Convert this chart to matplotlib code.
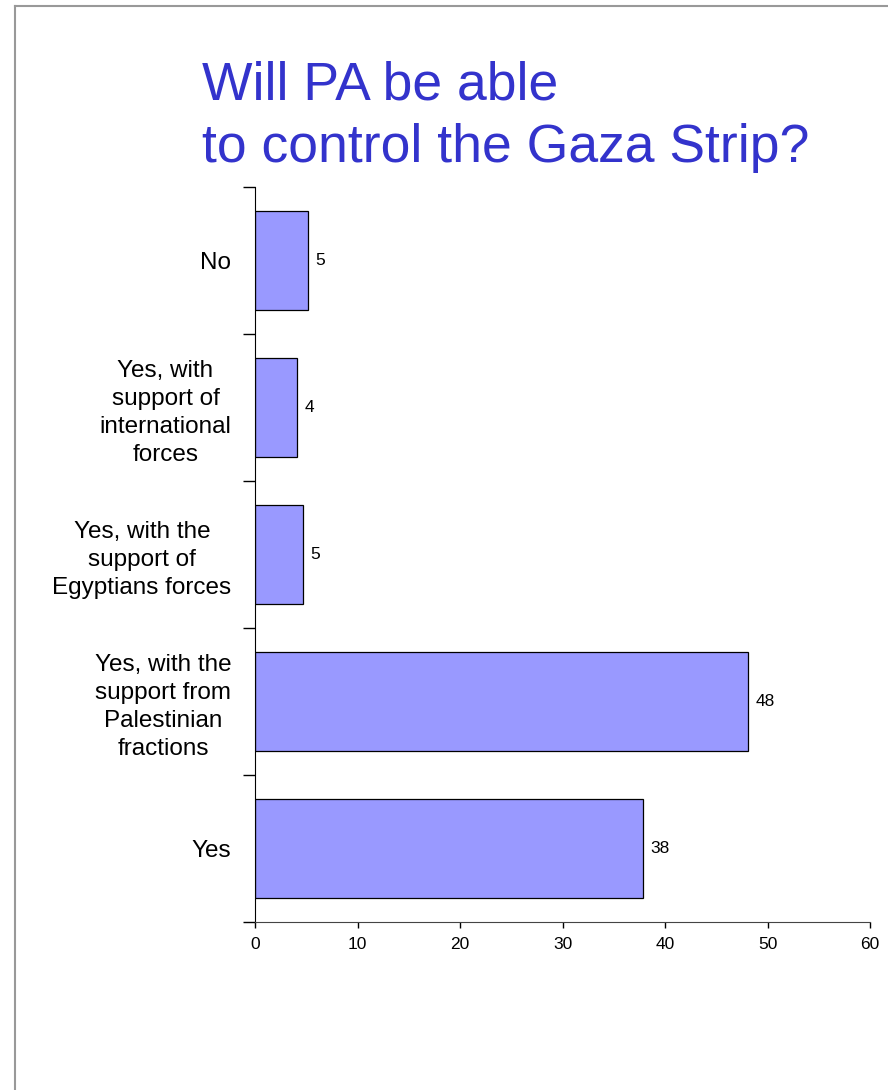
import matplotlib.pyplot as plt
from matplotlib.lines import Line2D

plt.rcParams['font.family'] = ['Liberation Sans', 'DejaVu Sans']

# Datos de la encuesta (de abajo hacia arriba)
categories = ['Yes',
              'Yes, with the\nsupport from\nPalestinian\nfractions',
              'Yes, with the\nsupport of\nEgyptians forces',
              'Yes, with\nsupport of\ninternational\nforces',
              'No']
values = [37.9, 48.1, 4.7, 4.1, 5.2]
value_labels = ['38', '48', '5', '4', '5']
x_ticks = [0, 10, 20, 30, 40, 50, 60]

W, H = 888, 1090
fig = plt.figure(figsize=(W / 100, H / 100), dpi=100)

# Marco de la diapositiva
fig.add_artist(Line2D([15 / W, 15 / W], [0, 1 - 6 / H], color='#999999', lw=1.5))
fig.add_artist(Line2D([15 / W, 1], [1 - 6 / H, 1 - 6 / H], color='#999999', lw=1.5))

# Título en dos líneas
title_color = '#3333CC'
fig.text(202 / W, 1 - 99 / H, 'Will PA be able', color=title_color,
         fontsize=38.5, ha='left', va='baseline')
fig.text(202 / W, 1 - 162 / H, 'to control the Gaza Strip?', color=title_color,
         fontsize=38.5, ha='left', va='baseline')

ax = fig.add_axes([255 / W, 1 - 922 / H, 615 / W, 735 / H])
pos = list(range(len(categories)))
bars = ax.barh(pos, values, height=0.68, color='#9999FF', edgecolor='black', linewidth=0.9)

for b, lab in zip(bars, value_labels):
    ax.text(b.get_width() + 0.7, b.get_y() + b.get_height() / 2, lab,
            va='center', ha='left', fontsize=12.5)

ax.set_xlim(0, 60)
ax.set_ylim(-0.5, len(categories) - 0.5)
ax.set_xticks(x_ticks)
ax.tick_params(axis='x', direction='out', length=4, width=1, labelsize=12.5, pad=7)

# Marcas mayores en los límites de categoría, etiquetas en las menores
ax.set_yticks([p - 0.5 for p in pos] + [pos[-1] + 0.5])
ax.set_yticklabels([])
ax.set_yticks(pos, minor=True)
ax.set_yticklabels(categories, minor=True, fontsize=17.5, multialignment='center', linespacing=1.35)
ax.tick_params(axis='y', which='major', direction='out', length=9, width=1)
ax.tick_params(axis='y', which='minor', length=0, pad=17)

for s in ['top', 'right']:
    ax.spines[s].set_visible(False)
ax.spines['bottom'].set_color('#444444')

fig.savefig('out.png', dpi=100)
